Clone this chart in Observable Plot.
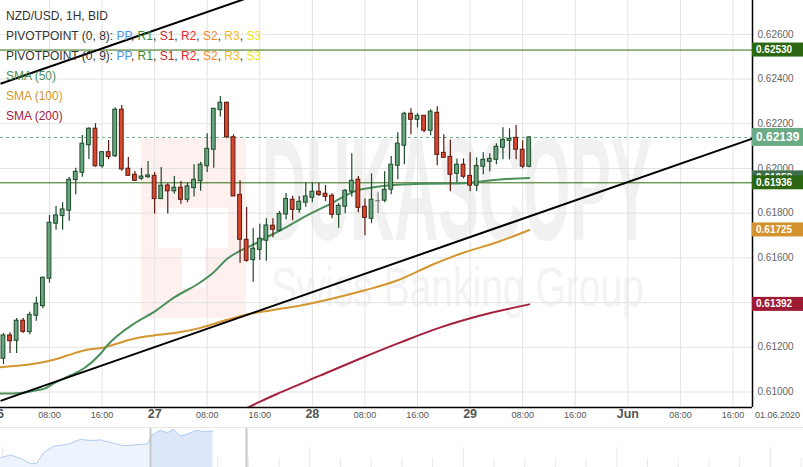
<!DOCTYPE html>
<html><head><meta charset="utf-8">
<script src="https://cdn.jsdelivr.net/npm/d3@7"></script>
<script src="https://cdn.jsdelivr.net/npm/@observablehq/plot@0.6"></script>
<style>
body{margin:0;background:#fff;font-family:"Liberation Sans",Arial,sans-serif;}
#wrap{position:relative;width:803px;height:467px;overflow:hidden;background:#fff;}
#legend{position:absolute;left:6px;top:6px;font-size:12px;line-height:20px;color:#333;white-space:nowrap;}
#nav{border-top:1px solid #e6e6e6;}
svg{display:block;}
</style></head><body>
<div id="wrap"><div id="main"></div><div id="nav"></div><div id="legend"></div></div>
<script>
// ---- candles: hours counted from 26 May 00:00 (weekend removed) ----
const hours = d3.range(1, 82);
const open = [0.61149,0.61253,0.61229,0.61319,0.61268,0.61341,0.61384,0.61507,0.61753,0.61787,0.61811,0.61948,0.61981,0.62104,0.62178,0.62010,0.62073,0.62055,0.62263,0.61999,0.61972,0.61954,0.61961,0.61967,0.61863,0.61924,0.61898,0.61914,0.61860,0.61912,0.61943,0.62010,0.62084,0.62261,0.62294,0.62140,0.61882,0.61681,0.61590,0.61636,0.61677,0.61744,0.61721,0.61794,0.61860,0.61815,0.61847,0.61869,0.61896,0.61887,0.61878,0.61793,0.61829,0.61896,0.61950,0.61829,0.61775,0.61856,0.61856,0.61905,0.62012,0.62102,0.62245,0.62218,0.62236,0.62169,0.62249,0.62070,0.62052,0.61976,0.62017,0.61967,0.61923,0.62008,0.62030,0.62039,0.62093,0.62124,0.62137,0.62084,0.62008];
const high = [0.61262,0.61265,0.61329,0.61329,0.61357,0.61424,0.61514,0.61790,0.61830,0.61847,0.61960,0.62001,0.62148,0.62182,0.62200,0.62076,0.62125,0.62272,0.62282,0.62049,0.61987,0.62001,0.62031,0.61982,0.62004,0.61932,0.61964,0.61942,0.61936,0.62017,0.62028,0.62155,0.62270,0.62322,0.62296,0.62151,0.61945,0.61826,0.61732,0.61751,0.61775,0.61775,0.61808,0.61888,0.61876,0.61875,0.61936,0.61936,0.61934,0.61924,0.61887,0.61842,0.61906,0.62066,0.61964,0.61864,0.61976,0.61894,0.61985,0.62054,0.62160,0.62252,0.62267,0.62245,0.62236,0.62263,0.62276,0.62151,0.62128,0.62043,0.62043,0.62070,0.62048,0.62070,0.62066,0.62111,0.62182,0.62178,0.62192,0.62124,0.62142];
const low = [0.61123,0.61172,0.61172,0.61262,0.61256,0.61317,0.61372,0.61487,0.61724,0.61724,0.61764,0.61882,0.61961,0.62040,0.62006,0.62001,0.62039,0.62049,0.61988,0.61967,0.61942,0.61945,0.61955,0.61796,0.61863,0.61796,0.61885,0.61840,0.61847,0.61872,0.61898,0.61982,0.62001,0.62230,0.62133,0.61875,0.61576,0.61581,0.61491,0.61588,0.61585,0.61690,0.61715,0.61769,0.61766,0.61800,0.61827,0.61847,0.61875,0.61852,0.61775,0.61733,0.61797,0.61872,0.61802,0.61699,0.61753,0.61799,0.61847,0.61882,0.61950,0.62017,0.62151,0.62182,0.62160,0.62146,0.62012,0.62048,0.61896,0.61936,0.61954,0.61896,0.61896,0.61972,0.61985,0.62017,0.62039,0.62039,0.62039,0.61999,0.62003];
const close = [0.61253,0.61227,0.61319,0.61269,0.61345,0.61395,0.61511,0.61757,0.61790,0.61817,0.61950,0.61985,0.62111,0.62178,0.62010,0.62073,0.62052,0.62263,0.61996,0.61967,0.61945,0.61964,0.61969,0.61863,0.61923,0.61898,0.61914,0.61860,0.61920,0.61950,0.62017,0.62088,0.62267,0.62294,0.62140,0.61875,0.61681,0.61587,0.61641,0.61686,0.61745,0.61726,0.61797,0.61864,0.61815,0.61851,0.61875,0.61896,0.61882,0.61873,0.61793,0.61833,0.61900,0.61945,0.61824,0.61779,0.61860,0.61856,0.61905,0.62017,0.62111,0.62245,0.62218,0.62236,0.62169,0.62254,0.62061,0.62048,0.61972,0.62017,0.61963,0.61923,0.62012,0.62039,0.62043,0.62097,0.62128,0.62133,0.62084,0.62008,0.62139];

// ---- moving averages (read at sample hours) ----
const sma50Hours = [0.55,3.59,5.87,7.14,8.92,11.2,13.22,15.76,16.78,20.83,23.87,26.92,30.98,33.0,35.04,37.07,39.09,40.61,43.15,47.21,50.76,54.82,57.35,60.91,65.98,71.05,76.12,81];
const sma50 = [0.60993,0.60996,0.61007,0.61014,0.61043,0.61074,0.61105,0.61171,0.61208,0.61305,0.61357,0.61422,0.61491,0.61536,0.61596,0.61633,0.61660,0.61686,0.61723,0.61790,0.61842,0.61902,0.61916,0.61927,0.61932,0.61934,0.61950,0.61958];
const sma100Hours = [0.55,5.61,8.16,10.7,13.22,16.27,20.83,23.87,27.94,30.98,35.04,38.09,41.63,46.2,50.76,55.83,60.91,65.98,71.05,76.12,81];
const sma100 = [0.61111,0.61126,0.61141,0.61163,0.61186,0.61199,0.61238,0.61253,0.61268,0.61287,0.61323,0.61347,0.61365,0.61387,0.61416,0.61454,0.61499,0.61566,0.61624,0.61670,0.61725];
const sma200Hours = [36.8,40.11,43.15,49.24,55.33,61.41,67.5,73.58,81];
const sma200 = [0.60910,0.60958,0.60998,0.61074,0.61150,0.61222,0.61289,0.61342,0.61392];

// ---- trend lines (start hour, start price, end hour, end price) ----
const trendStartHour = [0.55, 0.55];
const trendStartPrice = [0.60960, 0.62379];
const trendEndHour = [114.97, 45];
const trendEndPrice = [0.62134, 0.62833];

// ---- horizontal levels ----
const pivotLevels = [0.62530, 0.61936];
const lastPrice = 0.62139;

// ---- axes ----
const priceTicks = [0.610,0.612,0.614,0.616,0.618,0.620,0.622,0.624,0.626];
const timeTickHours = [0,8,16,24,32,40,48,56,64,72,80,88,96,104,112];
const timeTickLabels = ["26","08:00","16:00","27","08:00","16:00","28","08:00","16:00","29","08:00","16:00","Jun","08:00","16:00"];
const timeTickIsDay = [1,0,0,1,0,0,1,0,0,1,0,0,1,0,0];
const dateLabel = "01.06.2020";

// ---- right side price tags ----
const tagValues = [0.62530, 0.62139, 0.61958, 0.61936, 0.61725, 0.61392];
const tagColors = ["#2b6610", "#6aaa85", "#3e6e4e", "#2b6610", "#d4922e", "#9e1b36"];
const tagBig = [0, 1, 0, 0, 0, 0];

// ---- watermark ----
const watermarkTitle = "DUKASCOPY";
const watermarkSub = "Swiss Banking Group";

// ---- navigator (days) ----
const navDays = [-0.072,0.254,0.58,0.906,1.10,1.23,1.33,1.655,2.11,2.534,2.86,3.186,3.609,3.935,4.26,4.717,4.87,5.14,5.358,5.573,5.79,6.01,6.336,6.55,6.84];
const navPrice = [0.5985,0.60072,0.59767,0.5933,0.5933,0.5985,0.60262,0.60815,0.6098,0.61417,0.6131,0.61368,0.61087,0.60873,0.60922,0.61038,0.6178,0.62193,0.6197,0.62275,0.61698,0.61863,0.62193,0.62077,0.62135];
const navWindow = [4.814, 7.94];

// ---- legend ----
const legendTitle = "NZD/USD, 1H, BID";
const pivotNames = ["PIVOTPOINT (0, 8): ", "PIVOTPOINT (0, 9): "];
const pivotItems = ["PP","R1","S1","R2","S2","R3","S3"];
const pivotColors = ["#4f94ef","#3a8a3a","#c4262e","#ee2a2a","#f5891f","#f6b90f","#f3e21a"];
const smaNames = ["SMA (50)","SMA (100)","SMA (200)"];
const smaColors = ["#4a8f5c","#d4962e","#a52140"];

const xDomain = [0.548, 114.97];
const yDomain = [0.609306, 0.627517];
const font = '"Liberation Sans", Arial, sans-serif';

const candles = hours.map((t,i)=>({t, o:open[i], h:high[i], l:low[i], c:close[i]}));
const dir = d => d.c > d.o ? "up" : d.c < d.o ? "down" : "flat";
const bodyFill = {up:"#67a57e", down:"#d9482e", flat:"#888888"};
const edge = {up:"#1d4a2a", down:"#5c1a10", flat:"#777777"};
const toPts = (ts, vs) => ts.map((t,i)=>({t, v:vs[i]}));
const trends = trendStartHour.map((t,i)=>({x1:t, y1:trendStartPrice[i], x2:trendEndHour[i], y2:trendEndPrice[i]}));
const timeTicks = timeTickHours.map((t,i)=>({t, label:timeTickLabels[i], day:timeTickIsDay[i]}));

const chart = Plot.plot({
  width: 803, height: 427,
  marginTop: 0, marginRight: 51, marginBottom: 20, marginLeft: 0,
  style: {fontFamily: font, background: "transparent", overflow: "visible"},
  x: {domain: xDomain, axis: null},
  y: {domain: yDomain, axis: null},
  color: {type: "identity"},
  marks: [
    Plot.ruleX(timeTickHours.filter(t => t > 0), {stroke: "#e3e3e3"}),
    Plot.ruleY(priceTicks, {stroke: "#e3e3e3"}),
    Plot.ruleY(pivotLevels, {stroke: "#2e6b0e", strokeWidth: 1}),
    Plot.ruleY([lastPrice], {stroke: "#6aaa85", strokeDasharray: "3,3"}),
    Plot.line(toPts(sma200Hours, sma200), {x: "t", y: "v", stroke: smaColors[2], strokeWidth: 2, curve: "monotone-x", clip: true}),
    Plot.line(toPts(sma100Hours, sma100), {x: "t", y: "v", stroke: smaColors[1], strokeWidth: 2, curve: "monotone-x", clip: true}),
    Plot.line(toPts(sma50Hours, sma50), {x: "t", y: "v", stroke: smaColors[0], strokeWidth: 2, curve: "monotone-x", clip: true}),
    Plot.link(trends, {x1: "x1", y1: "y1", x2: "x2", y2: "y2", stroke: "#000", strokeWidth: 2, clip: true}),
    Plot.ruleX(candles, {x: "t", y1: "l", y2: "h", stroke: d => edge[dir(d)], strokeWidth: 1.2}),
    Plot.rect(candles.filter(d => dir(d) !== "flat"), {x1: d => d.t - 0.29, x2: d => d.t + 0.29, y1: "o", y2: "c", fill: d => bodyFill[dir(d)], stroke: d => edge[dir(d)], strokeWidth: 1}),
    Plot.ruleY(candles.filter(d => dir(d) === "flat"), {y: "o", x1: d => d.t - 0.35, x2: d => d.t + 0.35, stroke: edge.flat, strokeWidth: 1.2}),
    Plot.ruleX([xDomain[1]], {stroke: "#000", strokeWidth: 1.5}),
    Plot.ruleY([yDomain[0]], {stroke: "#000", strokeWidth: 1.5}),
    Plot.text(priceTicks, {y: d => d, text: d => d.toFixed(5), frameAnchor: "right", textAnchor: "start", dx: 5, fill: "#666", fontSize: 10}),
    Plot.text(timeTicks.filter(d => !d.day), {x: "t", text: "label", frameAnchor: "bottom", dy: 10, fill: "#555", fontSize: 9}),
    Plot.text(timeTicks.filter(d => d.day), {x: "t", text: "label", frameAnchor: "bottom", dy: 10, fill: "#555", fontSize: 12.5, fontWeight: "bold"}),
    Plot.text([dateLabel], {text: d => d, frameAnchor: "bottom-right", textAnchor: "middle", dx: 25, dy: 10, fill: "#555", fontSize: 9})
  ]
});
document.getElementById("main").appendChild(chart);

const yS = chart.scale("y");
const xS = chart.scale("x");
const svg = d3.select(chart);
const xr = xS.apply(xDomain[1]);

// faint watermark behind the marks (decoration, placed in the frame)
const wm = svg.insert("g", ":first-child").attr("pointer-events", "none");
wm.append("rect").attr("x", 141).attr("y", 137).attr("width", 105).attr("height", 181).attr("fill", "#fdf0ef");
wm.append("rect").attr("x", 158).attr("y", 208).attr("width", 70).attr("height", 40).attr("fill", "#ffffff");
wm.append("rect").attr("x", 182).attr("y", 247).attr("width", 23).attr("height", 41).attr("fill", "#ffffff");
wm.append("text").attr("transform", "translate(262,240) scale(1,2.4)").attr("text-anchor", "start")
  .attr("font-family", font).attr("font-weight", "bold").attr("font-size", 61)
  .attr("fill", "#f1f1f1").text(watermarkTitle);
wm.append("text").attr("transform", "translate(271,306) scale(1,1.43)").attr("text-anchor", "start")
  .attr("font-family", font).attr("font-size", 39)
  .attr("fill", "#f3f3f3").text(watermarkSub);

// price tags on the right axis, positioned with the chart's own y scale
tagValues.forEach((v, i) => {
  const y = yS.apply(v);
  const h = tagBig[i] ? 18 : 14;
  const g = svg.append("g");
  g.append("rect").attr("x", xr).attr("y", y - h / 2).attr("width", 803 - xr).attr("height", h).attr("fill", tagColors[i]);
  g.append("text").attr("x", xr + 4).attr("y", y).attr("dy", "0.36em").attr("text-anchor", "start")
    .attr("fill", "#fff").attr("font-weight", "bold").attr("font-family", font)
    .attr("font-size", tagBig[i] ? 12 : 10).text(v.toFixed(5));
});

// navigator
const navPts = toPts(navDays, navPrice);
const navDayTicks = d3.range(0, 27);
const nav = Plot.plot({
  width: 803, height: 39, margin: 0,
  style: {background: "transparent"},
  x: {domain: [-0.0717, 26.08], axis: null},
  y: {domain: [0.5900, 0.6235], axis: null},
  marks: [
    Plot.ruleX(navDayTicks.filter(d => d % 5 !== 0), {insetTop: 30, stroke: "#e8e8e8"}),
    Plot.ruleX(navDayTicks.filter(d => d % 5 === 0), {insetTop: 19, stroke: "#e8e8e8"}),
    Plot.areaY(navPts, {x: "t", y: "v", y1: 0.5900, fill: "#eef4fd"}),
    Plot.areaY(navPts.filter(d => d.t >= navWindow[0]), {x: "t", y: "v", y1: 0.5900, fill: "#dce7fa"}),
    Plot.line(navPts, {x: "t", y: "v", stroke: "#b5cdf2", strokeWidth: 1}),
    Plot.ruleX(navWindow, {stroke: "#c6c6c6", strokeWidth: 2})
  ]
});
document.getElementById("nav").appendChild(nav);

// legend
const lg = document.getElementById("legend");
const addLine = (parts) => {
  const div = document.createElement("div");
  parts.forEach(([txt, col]) => { const s = document.createElement("span"); s.textContent = txt; if (col) s.style.color = col; div.appendChild(s); });
  lg.appendChild(div);
};
addLine([[legendTitle]]);
pivotNames.forEach(n => {
  const parts = [[n]];
  pivotItems.forEach((p, i) => { parts.push([p, pivotColors[i]]); if (i < pivotItems.length - 1) parts.push([", "]); });
  addLine(parts);
});
smaNames.forEach((n, i) => addLine([[n, smaColors[i]]]));
</script>
</body></html>
